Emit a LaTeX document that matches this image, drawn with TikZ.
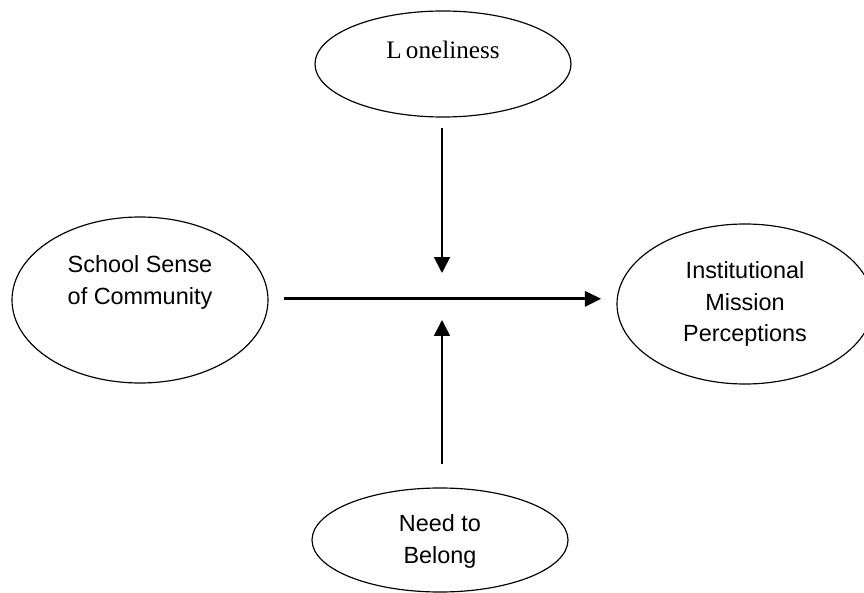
\documentclass[tikz,border=0pt]{standalone}
\usepackage{fontspec}
\setmainfont{Liberation Serif}
\setsansfont{Liberation Sans}
\usetikzlibrary{shapes.geometric,arrows.meta}

\tikzset{
  oval/.style={draw=black, line width=1pt, ellipse, minimum width=256*0.03cm, minimum height=106*0.03cm, inner sep=0pt},
  bigoval/.style={oval, minimum height=166*0.03cm},
  sanstext/.style={align=center, font=\sffamily\fontsize{20}{27}\selectfont},
  serftext/.style={font=\rmfamily\fontsize{21.5}{26}\selectfont},
  thinarrow/.style={line width=1.6pt, -{Triangle[length=13.5pt,width=13.5pt]}},
  thickarrow/.style={line width=2.5pt, -{Triangle[length=14pt,width=13pt]}}
}

\begin{document}
\begin{tikzpicture}[x=0.03cm, y=-0.03cm]
                \clip (0,0) rectangle (864,593);
                \fill[white] (0,0) rectangle (864,593);
                % ovals
                \node[oval] (lone) at (443,64) {};
                \node[bigoval] (school) at (140,300) {};
                \node[oval, minimum height=160*0.03cm] (mission) at (745,304) {};
                \node[oval, minimum height=104*0.03cm] (belong) at (440,540) {};
                % texts
                \node[serftext] (lonetxt) at ([yshift=12pt]lone.center) {L\,oneliness};
                \node[sanstext] (schooltxt) at ([yshift=15pt]school.center) {School Sense\\of Community};
                \node[sanstext] (missiontxt) at (mission.center) {Institutional\\Mission\\Perceptions};
                \node[sanstext] (belongtxt) at ([yshift=-1pt]belong.center) {Need to\\Belong};
                % arrow ends near the middle
                \coordinate (topend) at (442,273);
                \coordinate (botend) at (442,320);
                \draw[thickarrow, shorten <=13pt, shorten >=13pt] ([yshift=1pt]school.east) -- ([yshift=1pt]school.east -| mission.west);
                \draw[thinarrow, shorten <=8.5pt] (lone.south -| topend) -- (topend);
                \draw[thinarrow, shorten <=20pt] (belong.north -| botend) -- (botend);
            \end{tikzpicture}
\end{document}
